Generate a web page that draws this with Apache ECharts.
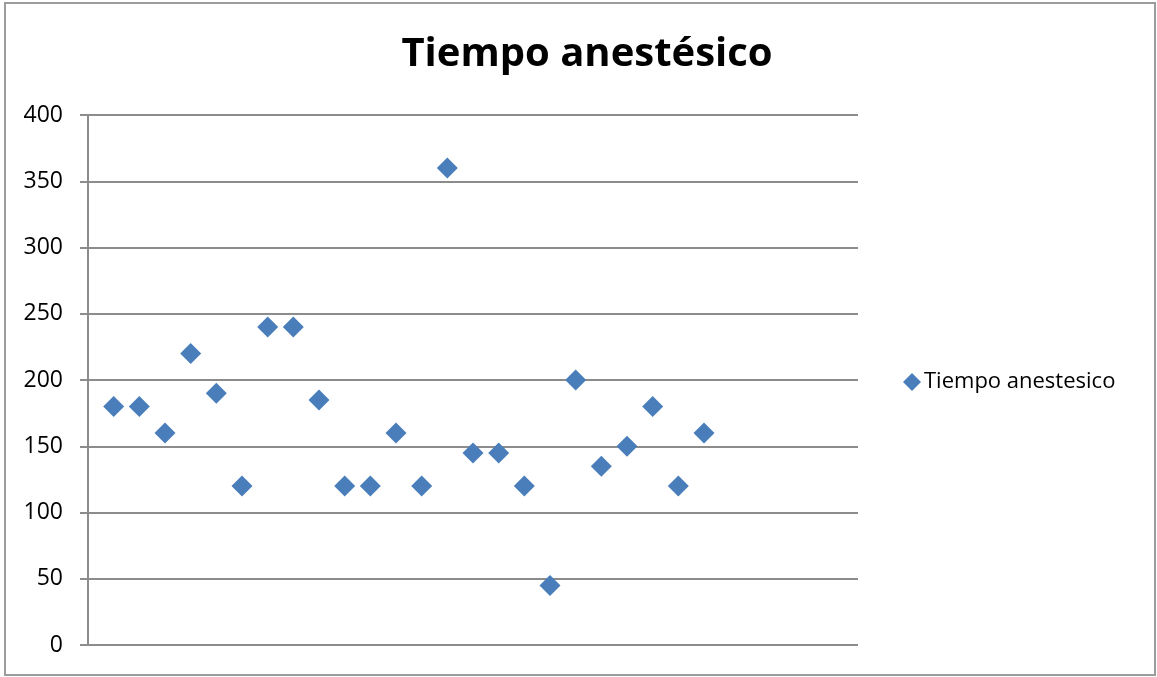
<!DOCTYPE html>
<html>
<head>
<meta charset="utf-8">
<script src="https://cdn.jsdelivr.net/npm/echarts@6/dist/echarts.min.js"></script>
<style>
  html, body { margin: 0; padding: 0; background: #fff; }
  #chart { width: 1157px; height: 677px; }
</style>
</head>
<body>
<div id="chart"></div>
<script>
// Anaesthesia time per case (minutes), cases numbered 1..24
const caseNumbers = [1, 2, 3, 4, 5, 6, 7, 8, 9, 10, 11, 12, 13, 14, 15, 16, 17, 18, 19, 20, 21, 22, 23, 24];
const tiempoAnestesico = [180, 180, 160, 220, 190, 120, 240, 240, 185, 120, 120, 160, 120, 360, 145, 145, 120, 45, 200, 135, 150, 180, 120, 160];
const yTicks = [0, 50, 100, 150, 200, 250, 300, 350, 400];

const chart = echarts.init(document.getElementById('chart'), null, { renderer: 'canvas' });
const font = '"Open Sans", "Noto Sans", sans-serif';

chart.setOption({
  animation: false,
  backgroundColor: '#ffffff',
  title: {
    text: 'Tiempo anestésico',
    left: 582,
    textAlign: 'center',
    top: 30,
    textStyle: { fontFamily: font, fontSize: 40, fontWeight: 'bold', color: '#000' }
  },
  legend: {
    data: ['Tiempo anestesico'],
    orient: 'vertical',
    left: 898,
    top: 366,
    itemWidth: 18,
    itemHeight: 18,
    itemGap: 6,
    icon: 'diamond',
    textStyle: { fontFamily: font, fontSize: 22, color: '#000', padding: [0, 0, 0, -2] }
  },
  graphic: [{
    type: 'rect',
    shape: { x: 5, y: 3, width: 1150, height: 672 },
    style: { fill: 'none', stroke: '#9c9c9c', lineWidth: 2 },
    silent: true
  }],
  grid: { left: 88, right: 299, top: 115, bottom: 32, containLabel: false },
  xAxis: {
    type: 'value',
    min: 0,
    max: 30,
    show: false
  },
  yAxis: {
    type: 'value',
    min: yTicks[0],
    max: yTicks[yTicks.length - 1],
    interval: 50,
    axisLine: { show: true, lineStyle: { color: '#8c8c8c', width: 2 } },
    axisTick: { show: true, length: 8, lineStyle: { color: '#8c8c8c', width: 2 } },
    splitLine: { show: true, lineStyle: { color: '#8c8c8c', width: 2 } },
    axisLabel: { fontFamily: font, fontSize: 23, color: '#000', margin: 25 }
  },
  series: [{
    name: 'Tiempo anestesico',
    type: 'scatter',
    symbol: 'diamond',
    symbolSize: 21,
    itemStyle: { color: '#4a7ebb', opacity: 1 },
    data: caseNumbers.map((c, i) => [c, tiempoAnestesico[i]])
  }]
});
</script>
</body>
</html>
